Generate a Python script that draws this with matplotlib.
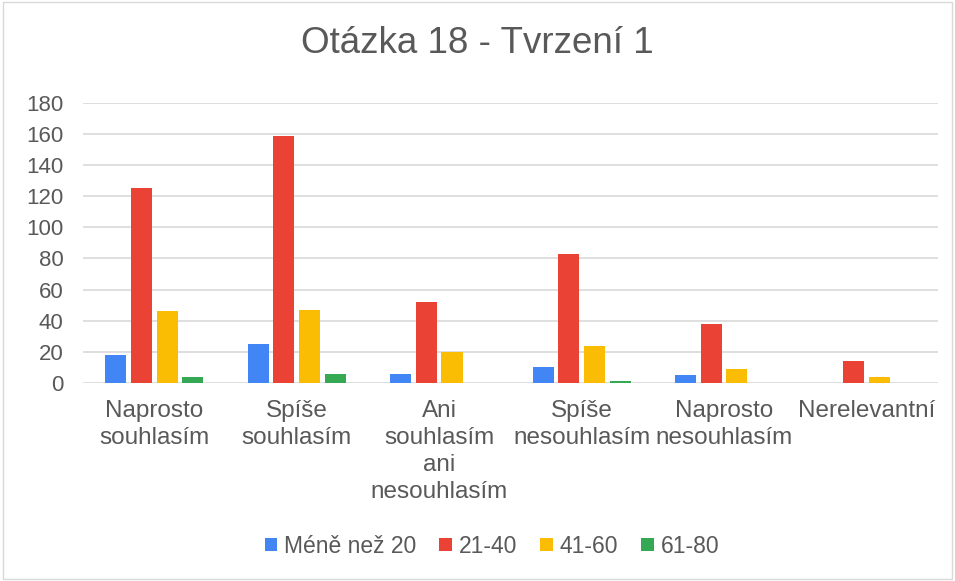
import matplotlib
matplotlib.use("Agg")
import matplotlib.pyplot as plt
import numpy as np
from matplotlib.patches import Rectangle

plt.rcParams['font.family'] = ['Liberation Sans', 'DejaVu Sans']

categories = ["Naprosto\nsouhlasím", "Spíše\nsouhlasím", "Ani\nsouhlasím\nani\nnesouhlasím",
              "Spíše\nnesouhlasím", "Naprosto\nnesouhlasím", "Nerelevantní"]
series_names = ["Méně než 20", "21-40", "41-60", "61-80"]
mene_20 = [18, 25, 6, 10, 5, 0]
v21_40 = [125, 159, 52, 83, 38, 14]
v41_60 = [46, 47, 20, 24, 9, 4]
v61_80 = [4, 6, 0, 1, 0, 0]
colors = ["#4285F4", "#EA4335", "#FBBC04", "#34A853"]
yticks = [0, 20, 40, 60, 80, 100, 120, 140, 160, 180]

fig = plt.figure(figsize=(9.55, 5.81), dpi=100)
fig.patches.append(Rectangle((0.003, 0.004), 0.994, 0.992, transform=fig.transFigure,
                             fill=False, edgecolor="#D9D9D9", linewidth=1))
ax = fig.add_axes([0.087, 0.341, 0.895, 0.482])

x = np.arange(len(categories))
step = 0.18
width = 0.148
data = [mene_20, v21_40, v41_60, v61_80]
for i, (vals, c, name) in enumerate(zip(data, colors, series_names)):
    ax.bar(x + (i - 1.5) * step, vals, width, color=c, label=name, zorder=3)

ax.set_xlim(-0.5, len(categories) - 0.5)
ax.set_ylim(0, 180)
ax.set_yticks(yticks)
ax.yaxis.grid(True, color="#D9D9D9", linewidth=1.2, zorder=0)
ax.set_axisbelow(True)
for s in ax.spines.values():
    s.set_visible(False)
ax.tick_params(axis='both', length=0, colors="#595959")
ax.tick_params(axis='y', pad=14, labelsize=16)
ax.set_xticks(x)
ax.set_xticklabels(categories, linespacing=1.3)
ax.tick_params(axis='x', pad=12, labelsize=17.5)

fig.text(0.5, 0.909, "Otázka 18 - Tvrzení 1", ha='center', va='baseline', fontsize=26.5, color="#595959")
leg = fig.legend(loc='center', bbox_to_anchor=(0.515, 0.06), ncol=4, frameon=False,
                 fontsize=16.5, handlelength=0.55, handleheight=0.55, handletextpad=0.3,
                 columnspacing=1.0, labelcolor="#595959")
fig.savefig("out.png", dpi=100)
